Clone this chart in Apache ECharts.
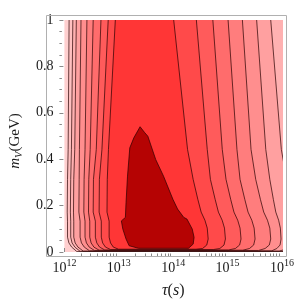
<!DOCTYPE html>
<html><head><meta charset="utf-8">
<script src="https://cdn.jsdelivr.net/npm/echarts@6/dist/echarts.min.js"></script>
<style>html,body{margin:0;padding:0;background:#fff}#c{width:297px;height:304px}</style>
</head><body><div id="c"></div>
<script>
// x values are log10(tau / s); y values are m_V in GeV
const xTickExponents = [12, 13, 14, 15, 16];
const xMinorMantissas = [2, 3, 4, 5, 6, 7, 8, 9];
const yTickValues = [0, 0.2, 0.4, 0.6, 0.8, 1];

// contour lines, [log10 tau, m_V], from top to bottom
const contourLeft1 = [[12.086,1.0],[12.069,0.442],[12.057,0.313],[12.052,0.172],[12.057,0.133],[12.057,0.064],[12.083,0.039],[12.134,0.021],[12.229,0.0018]];
const contourLeft2 = [[12.155,1.0],[12.129,0.442],[12.116,0.313],[12.110,0.172],[12.116,0.133],[12.116,0.064],[12.141,0.039],[12.193,0.021],[12.288,0.003]];
const contourLeft3 = [[12.219,1.0],[12.190,0.442],[12.172,0.313],[12.167,0.172],[12.172,0.133],[12.172,0.064],[12.198,0.039],[12.250,0.021],[12.345,0.0042]];
const contourLeft4 = [[12.305,1.0],[12.276,0.442],[12.271,0.313],[12.266,0.172],[12.288,0.133],[12.288,0.064],[12.314,0.039],[12.366,0.021],[12.460,0.0054]];
const contourLeft5 = [[12.414,1.0],[12.379,0.442],[12.362,0.313],[12.357,0.172],[12.379,0.133],[12.379,0.064],[12.405,0.039],[12.457,0.021],[12.552,0.0066]];
const contourLeft6 = [[12.529,1.0],[12.474,0.442],[12.448,0.313],[12.443,0.172],[12.466,0.133],[12.466,0.064],[12.491,0.039],[12.543,0.021],[12.638,0.0078]];
const contourLeft7 = [[12.672,1.0],[12.586,0.442],[12.534,0.313],[12.529,0.172],[12.569,0.133],[12.569,0.064],[12.595,0.039],[12.647,0.021],[12.741,0.009]];
const contourLeft8 = [[12.805,1.0],[12.690,0.442],[12.643,0.313],[12.638,0.172],[12.678,0.133],[12.678,0.064],[12.703,0.039],[12.755,0.021],[12.850,0.0105]];
const contourLeft9 = [[12.936,1.0],[12.810,0.442],[12.788,0.313],[12.783,0.172],[12.822,0.133],[12.822,0.064],[12.848,0.039],[12.900,0.021],[12.995,0.012]];

const contourRight3 = [[15.793,1],[15.988,0.442],[16.052,0.356],[16.155,0.227],[16.207,0.056],[16.121,0.015],[15.948,0.0042]];
const contourRight4 = [[15.534,1],[15.702,0.442],[15.776,0.313],[15.841,0.227],[15.886,0.172],[15.938,0.137],[15.970,0.103],[15.983,0.056],[15.964,0.030],[15.905,0.015],[15.815,0.0054]];
const contourRight5 = [[15.272,1],[15.431,0.442],[15.517,0.313],[15.603,0.227],[15.664,0.172],[15.733,0.137],[15.776,0.103],[15.793,0.056],[15.767,0.030],[15.690,0.015],[15.569,0.0066]];
const contourRight6 = [[15.009,1],[15.172,0.442],[15.229,0.313],[15.316,0.227],[15.376,0.172],[15.445,0.137],[15.488,0.103],[15.505,0.056],[15.479,0.030],[15.402,0.015],[15.281,0.0078]];
const contourRight7 = [[14.729,1],[14.902,0.442],[14.971,0.313],[15.057,0.227],[15.117,0.172],[15.186,0.137],[15.229,0.103],[15.247,0.056],[15.221,0.030],[15.143,0.015],[15.022,0.009]];
const contourRight8 = [[14.426,1],[14.626,0.442],[14.684,0.313],[14.771,0.227],[14.831,0.172],[14.900,0.137],[14.943,0.103],[14.960,0.056],[14.934,0.030],[14.857,0.015],[14.736,0.0105]];
const contourRight9 = [[14.009,1],[14.264,0.442],[14.367,0.313],[14.453,0.227],[14.514,0.172],[14.583,0.137],[14.626,0.103],[14.643,0.056],[14.617,0.030],[14.540,0.015],[14.419,0.012]];

const darkRegion = [[13.391,0.540],[13.276,0.492],[13.202,0.449],[13.160,0.327],[13.133,0.213],[13.121,0.149],[13.047,0.134],[13.074,0.099],[13.133,0.056],[13.190,0.027],[13.362,0.016],[14.281,0.016],[14.367,0.034],[14.384,0.063],[14.350,0.099],[14.253,0.142],[14.195,0.149],[14.081,0.185],[13.995,0.227],[13.822,0.327],[13.678,0.399],[13.534,0.499],[13.478,0.514]];

const bandColors = ['#ffcfcf','#ffc0c0','#ffb1b1','#ffa0a0','#ff8e8e','#ff7d7d','#ff6c6c','#ff5b5b','#ff4a4a','#ff3636','#b50303'];
const lineColor = 'rgba(40,0,0,0.78)';

const leftLines = [contourLeft1, contourLeft2, contourLeft3, contourLeft4, contourLeft5, contourLeft6, contourLeft7, contourLeft8, contourLeft9];
const rightLines = [null, null, contourRight3, contourRight4, contourRight5, contourRight6, contourRight7, contourRight8, contourRight9];

const topExt = 1.05, rightExt = 16.3;
function buildRegion(left, right) {
  const pts = [[left[0][0], topExt]].concat(left);
  if (right) {
    return pts.concat(right.slice().reverse(), [[right[0][0], topExt]]);
  }
  const mb = left[left.length - 1][1];
  return pts.concat([[rightExt, mb], [rightExt, topExt]]);
}
const regions = leftLines.map((l, i) => ({ points: buildRegion(l, rightLines[i]), color: bandColors[i + 1] }));
regions.push({ points: darkRegion, color: bandColors[10] });

const xMinorTicks = [];
for (let e = 12; e < 16; e++) xMinorMantissas.forEach(d => xMinorTicks.push(Math.log10(d) + e));

const serif = 'Liberation Serif';
const txt = '#1a1a1a';
const chart = echarts.init(document.getElementById('c'), null, { renderer: 'canvas' });
chart.setOption({
  animation: false,
  grid: { left: 51, top: 20, width: 232, height: 233, show: true, backgroundColor: bandColors[0], borderWidth: 0 },
  xAxis: [{
    type: 'value', min: 12, max: 16, interval: 1, position: 'bottom', offset: 4,
    axisLine: { show: false }, splitLine: { show: false },
    axisTick: { inside: true, length: 4, lineStyle: { color: '#8a8a8a' } },
    axisLabel: {
      margin: 2, color: txt,
      formatter: v => '{b|10}{s|' + v + '}',
      rich: {
        b: { fontFamily: serif, fontSize: 14, color: txt, lineHeight: 20 },
        s: { fontFamily: serif, fontSize: 10, color: txt, lineHeight: 10, verticalAlign: 'top' }
      }
    },
    name: '{i|τ}{n|(}{i|s}{n|)}', nameLocation: 'middle', nameGap: 27,
    nameTextStyle: {
      rich: {
        i: { fontFamily: serif, fontStyle: 'italic', fontSize: 16, color: txt },
        n: { fontFamily: serif, fontSize: 16, color: txt }
      }
    }
  }, {
    type: 'value', min: 12, max: 16, position: 'bottom', offset: 4,
    axisLine: { show: false }, splitLine: { show: false }, axisLabel: { show: false },
    axisTick: { inside: true, length: 2.5, customValues: xMinorTicks, lineStyle: { color: '#8a8a8a' } }
  }],
  yAxis: {
    type: 'value', min: 0, max: 1, interval: 0.2, offset: 5,
    axisLine: { show: false }, splitLine: { show: false },
    axisTick: { inside: true, length: 4, lineStyle: { color: '#8a8a8a' } },
    minorTick: { show: true, splitNumber: 4, length: 2.5, lineStyle: { color: '#8a8a8a' } },
    axisLabel: { margin: 6, fontFamily: serif, fontSize: 14, color: txt },
    name: '{i|m}{sub|V}{n|(GeV)}', nameLocation: 'middle', nameRotate: 90, nameGap: 27,
    nameTextStyle: {
      padding: [0, 10, 0, 0],
      rich: {
        i: { fontFamily: serif, fontStyle: 'italic', fontSize: 15, color: txt, lineHeight: 19 },
        sub: { fontFamily: serif, fontStyle: 'italic', fontSize: 10.5, color: txt, lineHeight: 13, verticalAlign: 'bottom' },
        n: { fontFamily: serif, fontSize: 15, color: txt, lineHeight: 19 }
      }
    }
  },
  series: [{
    type: 'custom', xAxisIndex: 0, yAxisIndex: 0, clip: true, silent: true,
    data: regions.map((r, i) => [i, 0]),
    renderItem: function (params, api) {
      const r = regions[params.dataIndex];
      return {
        type: 'polygon',
        shape: { points: r.points.map(p => api.coord(p)) },
        style: { fill: r.color, stroke: lineColor, lineWidth: 0.9 }
      };
    }
  }],
  graphic: [{
    type: 'rect', silent: true, z: 100,
    shape: { x: 46.5, y: 15.5, width: 240, height: 241 },
    style: { fill: null, stroke: '#b0b0b0', lineWidth: 1 }
  }]
});
</script></body></html>
